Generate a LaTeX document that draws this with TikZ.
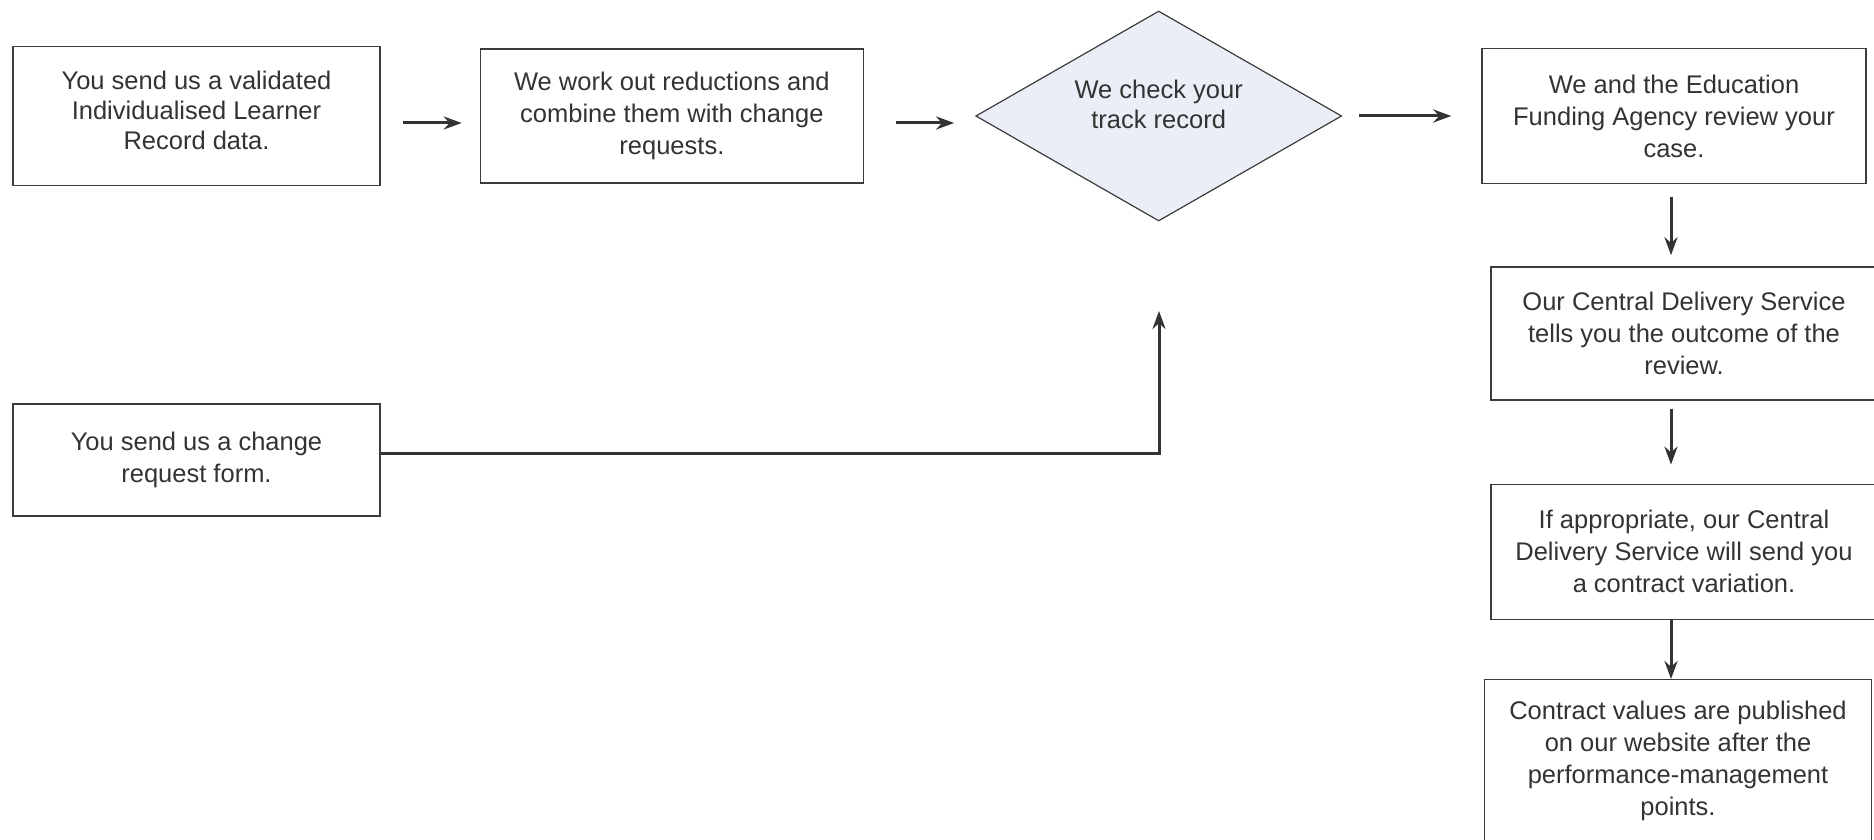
\documentclass[tikz,border=0pt]{standalone}
\usepackage{fontspec}
\setmainfont{Liberation Sans}
\usetikzlibrary{arrows.meta,positioning,shapes.geometric}
\definecolor{ink}{HTML}{333333}
\definecolor{rim}{HTML}{3C3C3C}
\definecolor{paleblue}{HTML}{EAEFF7}
\tikzset{
  stepbox/.style ={draw=rim,line width=1.4pt,align=center,text=ink,
                   font=\fontsize{25.5}{32}\selectfont,inner sep=0pt},
  check/.style   ={diamond,aspect=1.74,draw=rim,line width=1.2pt,fill=paleblue,
                   align=center,text=ink,font=\fontsize{25.5}{30}\selectfont,
                   inner sep=0pt,minimum width=366pt,minimum height=210pt},
  flow/.style    ={-{Stealth[length=18pt,width=13pt]},line width=3pt,ink},
}

\begin{document}
\begin{tikzpicture}[x=1pt,y=-1pt]
  \useasboundingbox (0,0) rectangle (1874,840);
  \clip (0,0) rectangle (1874,840);

  % top row
  \node[stepbox,font=\fontsize{25.5}{30}\selectfont,minimum width=367pt,minimum height=139pt] (ilr) at (196.5,116)
        {You send us a validated\\Individualised Learner\\Record data.\\[-18pt]};
  \node[stepbox,minimum width=383pt,minimum height=134pt,right=99pt of ilr] (reduce)
        {We work out reductions and\\combine them with change\\requests.};
  \node[check,right=111pt of reduce] (track) {We check your\\track record\\[-7pt]};
  \node[stepbox,minimum width=384pt,minimum height=135pt,right=139pt of track] (review)
        {We and the Education\\Funding Agency review your\\case.};

  % right column
  \node[stepbox,minimum width=386pt,minimum height=133pt,below=82pt of review,xshift=10pt] (outcome)
        {Our Central Delivery Service\\tells you the outcome of the\\review.};
  \node[stepbox,minimum width=386pt,minimum height=135pt,below=83pt of outcome] (variation)
        {If appropriate, our Central\\Delivery Service will send you\\a contract variation.};
  \node[stepbox,minimum width=387pt,minimum height=162pt,below=59pt of variation,xshift=-6pt] (publish)
        {Contract values are published\\on our website after the\\performance-management\\points.};

  % change request
  \node[stepbox,minimum width=367pt,minimum height=112pt] (form) at (196.5,460)
        {You send us a change\\request form.};
  \coordinate (tip) at (1159,311);

  \draw[flow,shorten <=22pt,shorten >=18pt] ([yshift=-7pt]ilr.east) -- ([yshift=-7pt]reduce.west);
  \draw[flow,shorten <=32pt,shorten >=21pt] ([yshift=-7pt]reduce.east) -- ([yshift=-7pt]track.west);
  \draw[flow,shorten <=17pt,shorten >=30pt] (track.east) -- (review.west);
  \draw[flow,shorten <=13pt,shorten >=11pt] ([xshift=-3pt]review.south) -- ([xshift=-3pt]review.south |- outcome.north);
  \draw[flow,shorten <=8pt,shorten >=19pt] ([xshift=-3pt]review.south |- outcome.south) -- ([xshift=-3pt]review.south |- variation.north);
  \draw[flow] ([xshift=-3pt]review.south |- variation.south) -- ([xshift=-3pt]review.south |- publish.north);
  \draw[flow] ([yshift=7pt]form.east) -| (tip);
\end{tikzpicture}
\end{document}
